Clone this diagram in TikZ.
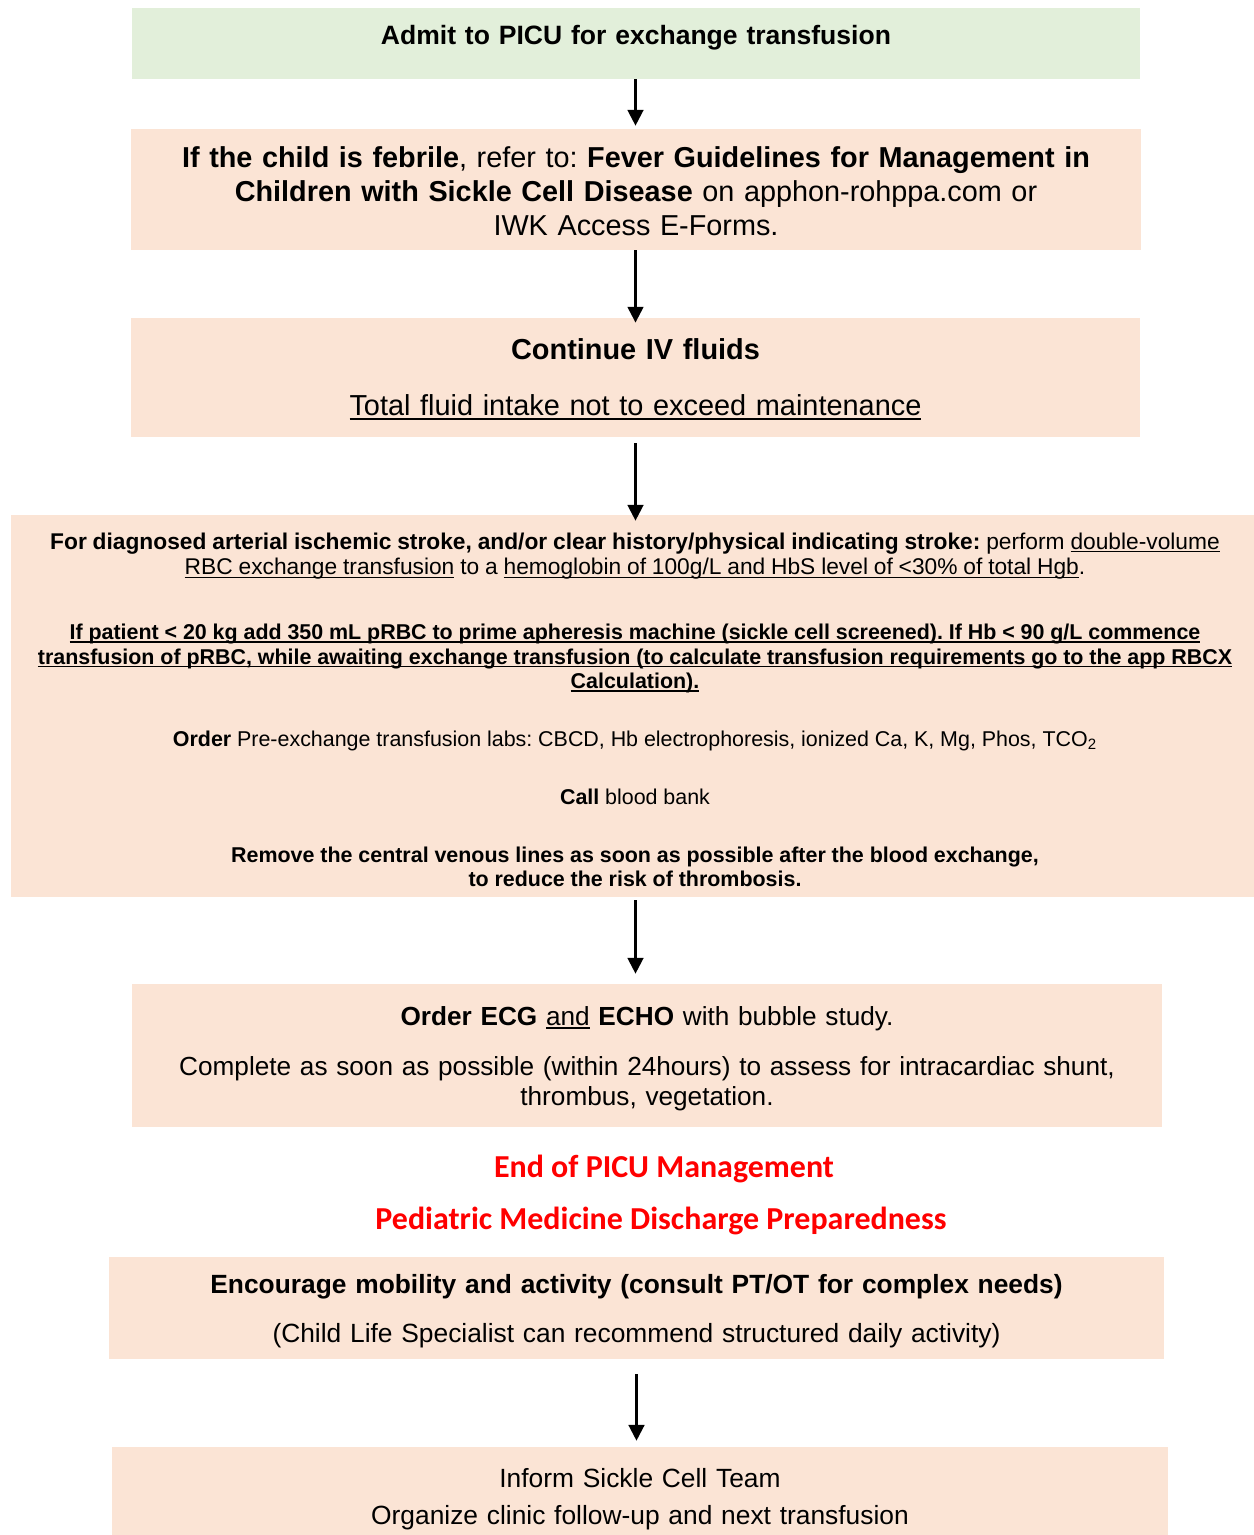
\documentclass[tikz,border=0pt]{standalone}
\usepackage{fontspec}
\setmainfont{Liberation Sans}
\newfontfamily\calibrifont{Carlito}
\usetikzlibrary{arrows.meta, positioning, calc}
\definecolor{admitgreen}{HTML}{E2EFDA}
\definecolor{stepfill}{HTML}{FBE4D5}
% Word-style underline, close under the baseline
\newcommand{\wordul}[1]{\leavevmode\setbox0\hbox{#1}\rlap{\rule[-0.14em]{\wd0}{0.07em}}\box0\relax}
% extra room above the first line / below the last line of a box
\newcommand{\padtop}[1]{\rule{0pt}{\dimexpr0.73em+#1\relax}}
\newcommand{\padbottom}[1]{\rule[-\dimexpr0.21em+#1\relax]{0pt}{\dimexpr0.21em+#1\relax}}
\frenchspacing

\begin{document}
\begin{tikzpicture}[
    x=0.02cm, y=-0.02cm,
    >={Triangle[width=9pt, length=9pt]},
    stepbox/.style={rectangle, fill=stepfill, align=center, inner sep=0pt},
    flow/.style={->, line width=1.3pt},
    redtitle/.style={anchor=base, text=red, font=\calibrifont\bfseries\fontsize{18.2}{21}\selectfont},
]
\useasboundingbox (0,0) rectangle (1254,1535);

% PICU steps
\node (Admit) at (636, 43.5) [stepbox, fill=admitgreen, minimum width=20.16cm, minimum height=1.42cm,
    text width=20cm, font=\bfseries\fontsize{15.1}{17}\selectfont]
    {Admit to PICU for exchange transfusion\padbottom{6.8pt}};

\node (Febrile) at (636, 189.5) [stepbox, minimum width=20.2cm, minimum height=2.42cm, text width=20cm,
    font=\fontsize{16.4}{19.3}\selectfont]
    {\padtop{1.7pt}\textbf{If the child is febrile}, refer to: \textbf{Fever Guidelines for Management in}\\
     \textbf{Children with Sickle Cell Disease} on apphon-rohppa.com or\\
     IWK Access E-Forms.};

\node (Fluids) at (635.5, 377.5) [stepbox, minimum width=20.18cm, minimum height=2.38cm, text width=20cm,
    font=\fontsize{16.45}{19.3}\selectfont]
    {\padtop{1.7pt}\textbf{Continue IV fluids}\\[13pt]
     \wordul{Total fluid intake not to exceed maintenance}};

\node (Stroke) at (635, 706) [stepbox, minimum width=24.96cm, minimum height=7.64cm, text width=24.7cm]
    {{\fontsize{12.95}{14.7}\selectfont
      \padtop{4pt}\textbf{For diagnosed arterial ischemic stroke, and/or clear history/physical indicating stroke:} perform \wordul{double-volume}\\
      \wordul{RBC exchange transfusion} to a \wordul{hemoglobin of 100g/L and HbS level of <30\% of total Hgb}.\par}
     \vspace{23pt}
     {\fontsize{12.2}{13.9}\selectfont\bfseries
      \wordul{If patient < 20 kg add 350 mL pRBC to prime apheresis machine (sickle cell screened). If Hb < 90 g/L commence}\\
      \wordul{transfusion of pRBC, while awaiting exchange transfusion (to calculate transfusion requirements go to the app RBCX}\\
      \wordul{Calculation).}\par}
     \vspace{19pt}
     {\fontsize{12.2}{13.9}\selectfont
      \textbf{Order} Pre-exchange transfusion labs: CBCD, Hb electrophoresis, ionized Ca, K, Mg, Phos, TCO\textsubscript{2}\par}
     \vspace{19pt}
     {\fontsize{12.2}{13.9}\selectfont
      \textbf{Call} blood bank\par}
     \vspace{19.5pt}
     {\fontsize{12.2}{13.6}\selectfont\bfseries
      Remove the central venous lines as soon as possible after the blood exchange,\\
      to reduce the risk of thrombosis.\par}};

\node (EcgEcho) at (647, 1055.5) [stepbox, minimum width=20.6cm, minimum height=2.86cm, text width=20.4cm,
    font=\fontsize{14.9}{17}\selectfont]
    {\padtop{3.4pt}\textbf{Order ECG} \wordul{and} \textbf{ECHO} with bubble study.\\[11.3pt]
     Complete as soon as possible (within 24hours) to assess for intracardiac shunt,\\
     thrombus, vegetation.};

% Hand-over titles
\node (EndPicu) at (664, 1177) [redtitle] {End of PICU Management};
\node (Discharge) at (661, 1229) [redtitle] {Pediatric Medicine Discharge Preparedness};

% Ward steps
\node (Mobility) at (636.5, 1308) [stepbox, minimum width=21.1cm, minimum height=2.04cm, text width=21cm,
    font=\fontsize{15}{17.2}\selectfont]
    {\padtop{3.4pt}\textbf{Encourage mobility and activity (consult PT/OT for complex needs)}\\[10.5pt]
     (Child Life Specialist can recommend structured daily activity)};

\node (Inform) at (640, 1496.5) [stepbox, minimum width=21.12cm, minimum height=1.98cm, text width=21cm,
    font=\fontsize{15}{21}\selectfont]
    {\padtop{3.4pt}Inform Sickle Cell Team\\
     Organize clinic follow-up and next transfusion};

% Arrows
\draw[flow, shorten >=1.7pt] (Admit.south -| Fluids.south) -- (Febrile.north -| Fluids.south);
\draw[flow, shorten >=-2.8pt] (Febrile.south -| Fluids.south) -- (Fluids.north);
\draw[flow, shorten <=3.4pt, shorten >=-3.4pt] (Fluids.south) -- (Fluids.south |- Stroke.north);
\draw[flow, shorten <=1.7pt, shorten >=5.7pt] (Stroke.south -| Fluids.south) -- (EcgEcho.north -| Fluids.south);
\draw[flow, shorten <=8.5pt, shorten >=3.4pt] (Mobility.south) -- (Mobility.south |- Inform.north);

\end{tikzpicture}
\end{document}
